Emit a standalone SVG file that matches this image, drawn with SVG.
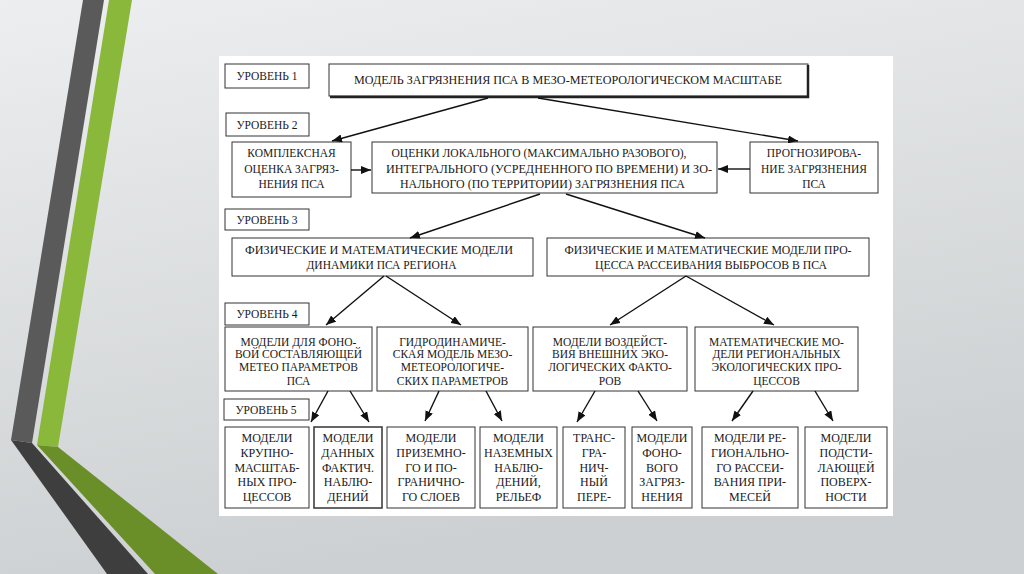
<svg xmlns="http://www.w3.org/2000/svg" width="1024" height="574" viewBox="0 0 1024 574">
<defs>
<linearGradient id="bg" x1="0" y1="0" x2="0.3" y2="1">
<stop offset="0" stop-color="#eceeef"/>
<stop offset="1" stop-color="#cdd0d2"/>
</linearGradient>
<marker id="ah" viewBox="0 0 10 8" refX="10" refY="4" markerWidth="10" markerHeight="8" markerUnits="userSpaceOnUse" orient="auto">
<path d="M0,0 L10,4 L0,8 z" fill="#111"/>
</marker>
<style>
.box{fill:#fff;stroke:#333;stroke-width:1}
text.t{font-family:'Liberation Serif','Times New Roman',serif;font-size:11.5px;fill:#1a1a1a;text-anchor:middle}
text.t5{font-family:'Liberation Serif','Times New Roman',serif;font-size:12px;fill:#1a1a1a;text-anchor:middle}
.c{stroke:#111;stroke-width:1.4;fill:none;marker-end:url(#ah)}
</style>
</defs>
<rect width="1024" height="574" fill="url(#bg)"/>
<g id="stripes">
<polygon points="83,0 104,0 32,443 11,440" fill="#5a5a5a"/>
<polygon points="11,440 32,443 148,574 107,574" fill="#3e3e3e"/>
<polygon points="109,0 132,0 58,447 37,445" fill="#8ab83a"/>
<polygon points="37,445 58,447 218,574 155,574" fill="#6a8f28"/>
</g>
<rect x="219" y="56" width="674" height="460" fill="#fff"/>

<g id="levels">
<g id="lvl1"><rect class="box" x="225" y="64" width="84" height="24"/><text class="t" x="267" y="80">УРОВЕНЬ 1</text></g>
<g id="lvl2"><rect class="box" x="226" y="113" width="83" height="23"/><text class="t" x="267" y="129">УРОВЕНЬ 2</text></g>
<g id="lvl3"><rect class="box" x="225" y="209" width="84" height="21"/><text class="t" x="267" y="224">УРОВЕНЬ 3</text></g>
<g id="lvl4"><rect class="box" x="225" y="303" width="84" height="22"/><text class="t" x="267" y="318">УРОВЕНЬ 4</text></g>
<g id="lvl5"><rect class="box" x="224" y="399" width="85" height="21"/><text class="t" x="266" y="414">УРОВЕНЬ 5</text></g>
</g>

<g id="title">
<rect class="box" x="329" y="64" width="479" height="32"/>
<path d="M808,65 V97 H330" stroke="#222" stroke-width="2.5" fill="none"/>
<text class="t" x="568" y="84" textLength="428" lengthAdjust="spacingAndGlyphs">МОДЕЛЬ ЗАГРЯЗНЕНИЯ ПСА В МЕЗО-МЕТЕОРОЛОГИЧЕСКОМ МАСШТАБЕ</text>
</g>

<g id="n2a"><rect class="box" x="232" y="142" width="119" height="55"/>
<text class="t" x="291.5" y="157">КОМПЛЕКСНАЯ</text>
<text class="t" x="291.5" y="173">ОЦЕНКА ЗАГРЯЗ-</text>
<text class="t" x="291.5" y="188">НЕНИЯ ПСА</text></g>
<g id="n2b"><rect class="box" x="372" y="142" width="345" height="51"/>
<text class="t" x="539" y="157" textLength="295" lengthAdjust="spacingAndGlyphs">ОЦЕНКИ ЛОКАЛЬНОГО (МАКСИМАЛЬНО РАЗОВОГО),</text>
<text class="t" x="549" y="173" textLength="326" lengthAdjust="spacingAndGlyphs">ИНТЕГРАЛЬНОГО (УСРЕДНЕННОГО ПО ВРЕМЕНИ) И ЗО-</text>
<text class="t" x="542.5" y="188" textLength="285" lengthAdjust="spacingAndGlyphs">НАЛЬНОГО (ПО ТЕРРИТОРИИ) ЗАГРЯЗНЕНИЯ ПСА</text></g>
<g id="n2c"><rect class="box" x="750" y="142" width="128" height="51"/>
<text class="t" x="814" y="157">ПРОГНОЗИРОВА-</text>
<text class="t" x="814" y="173">НИЕ ЗАГРЯЗНЕНИЯ</text>
<text class="t" x="814" y="188">ПСА</text></g>

<g id="n3a"><rect class="box" x="232" y="238" width="301" height="38"/>
<text class="t" x="379" y="254" textLength="268" lengthAdjust="spacingAndGlyphs">ФИЗИЧЕСКИЕ И МАТЕМАТИЧЕСКИЕ МОДЕЛИ</text>
<text class="t" x="381.5" y="269" textLength="150" lengthAdjust="spacingAndGlyphs">ДИНАМИКИ ПСА РЕГИОНА</text></g>
<g id="n3b"><rect class="box" x="547" y="238" width="322" height="38"/>
<text class="t" x="708" y="254" textLength="287" lengthAdjust="spacingAndGlyphs">ФИЗИЧЕСКИЕ И МАТЕМАТИЧЕСКИЕ МОДЕЛИ ПРО-</text>
<text class="t" x="711" y="269" textLength="232" lengthAdjust="spacingAndGlyphs">ЦЕССА РАССЕИВАНИЯ ВЫБРОСОВ В ПСА</text></g>

<g id="n4a"><rect class="box" x="225" y="327" width="147" height="64"/>
<text class="t" x="298.5" y="346">МОДЕЛИ ДЛЯ ФОНО-</text>
<text class="t" x="298.5" y="358">ВОЙ СОСТАВЛЯЮЩЕЙ</text>
<text class="t" x="298.5" y="371">МЕТЕО ПАРАМЕТРОВ</text>
<text class="t" x="298.5" y="385">ПСА</text></g>
<g id="n4b"><rect class="box" x="377" y="327" width="151" height="64"/>
<text class="t" x="452.5" y="346">ГИДРОДИНАМИЧЕ-</text>
<text class="t" x="452.5" y="358">СКАЯ МОДЕЛЬ МЕЗО-</text>
<text class="t" x="452.5" y="371">МЕТЕОРОЛОГИЧЕ-</text>
<text class="t" x="452.5" y="385">СКИХ ПАРАМЕТРОВ</text></g>
<g id="n4c"><rect class="box" x="533" y="327" width="154" height="64"/>
<text class="t" x="610" y="346">МОДЕЛИ ВОЗДЕЙСТ-</text>
<text class="t" x="610" y="358">ВИЯ ВНЕШНИХ ЭКО-</text>
<text class="t" x="610" y="371">ЛОГИЧЕСКИХ ФАКТО-</text>
<text class="t" x="610" y="385">РОВ</text></g>
<g id="n4d"><rect class="box" x="695" y="327" width="163" height="64"/>
<text class="t" x="776.5" y="346">МАТЕМАТИЧЕСКИЕ МО-</text>
<text class="t" x="776.5" y="358">ДЕЛИ РЕГИОНАЛЬНЫХ</text>
<text class="t" x="776.5" y="371">ЭКОЛОГИЧЕСКИХ ПРО-</text>
<text class="t" x="776.5" y="385">ЦЕССОВ</text></g>

<g id="n5a"><rect class="box" x="225" y="427" width="84" height="81"/>
<text class="t5" x="267" y="442">МОДЕЛИ</text><text class="t5" x="267" y="457">КРУПНО-</text><text class="t5" x="267" y="472">МАСШТАБ-</text><text class="t5" x="267" y="486">НЫХ ПРО-</text><text class="t5" x="267" y="501">ЦЕССОВ</text></g>
<g id="n5b"><rect class="box" x="314" y="427" width="68" height="81" style="stroke-width:1.5"/>
<text class="t5" x="348" y="442">МОДЕЛИ</text><text class="t5" x="348" y="457">ДАННЫХ</text><text class="t5" x="348" y="472">ФАКТИЧ.</text><text class="t5" x="348" y="486">НАБЛЮ-</text><text class="t5" x="348" y="501">ДЕНИЙ</text></g>
<g id="n5c"><rect class="box" x="387" y="427" width="88" height="81"/>
<text class="t5" x="431" y="442">МОДЕЛИ</text><text class="t5" x="431" y="457">ПРИЗЕМНО-</text><text class="t5" x="431" y="472">ГО И ПО-</text><text class="t5" x="431" y="486">ГРАНИЧНО-</text><text class="t5" x="431" y="501">ГО СЛОЕВ</text></g>
<g id="n5d"><rect class="box" x="480" y="427" width="77" height="81"/>
<text class="t5" x="518.5" y="442">МОДЕЛИ</text><text class="t5" x="518.5" y="457">НАЗЕМНЫХ</text><text class="t5" x="518.5" y="472">НАБЛЮ-</text><text class="t5" x="518.5" y="486">ДЕНИЙ,</text><text class="t5" x="518.5" y="501">РЕЛЬЕФ</text></g>
<g id="n5e"><rect class="box" x="563" y="427" width="62" height="81"/>
<text class="t5" x="594" y="442">ТРАНС-</text><text class="t5" x="594" y="457">ГРА-</text><text class="t5" x="594" y="472">НИЧ-</text><text class="t5" x="594" y="486">НЫЙ</text><text class="t5" x="594" y="501">ПЕРЕ-</text></g>
<g id="n5f"><rect class="box" x="632" y="427" width="60" height="81"/>
<text class="t5" x="662" y="442">МОДЕЛИ</text><text class="t5" x="662" y="457">ФОНО-</text><text class="t5" x="662" y="472">ВОГО</text><text class="t5" x="662" y="486">ЗАГРЯЗ-</text><text class="t5" x="662" y="501">НЕНИЯ</text></g>
<g id="n5g"><rect class="box" x="702" y="427" width="96" height="81"/>
<text class="t5" x="750" y="442">МОДЕЛИ РЕ-</text><text class="t5" x="750" y="457">ГИОНАЛЬНО-</text><text class="t5" x="750" y="472">ГО РАССЕИ-</text><text class="t5" x="750" y="486">ВАНИЯ ПРИ-</text><text class="t5" x="750" y="501">МЕСЕЙ</text></g>
<g id="n5h"><rect class="box" x="805" y="427" width="82" height="81"/>
<text class="t5" x="846" y="442">МОДЕЛИ</text><text class="t5" x="846" y="457">ПОДСТИ-</text><text class="t5" x="846" y="472">ЛАЮЩЕЙ</text><text class="t5" x="846" y="486">ПОВЕРХ-</text><text class="t5" x="846" y="501">НОСТИ</text></g>

<g id="connectors">
<line class="c" x1="488" y1="98" x2="332" y2="141"/>
<line class="c" x1="538" y1="98" x2="798" y2="141"/>
<line class="c" x1="351" y1="170" x2="371" y2="170"/>
<line class="c" x1="750" y1="169" x2="718" y2="169"/>
<line class="c" x1="540" y1="194" x2="410" y2="238"/>
<line class="c" x1="566" y1="194" x2="705" y2="238"/>
<line class="c" x1="384" y1="276" x2="326" y2="325"/>
<line class="c" x1="386" y1="276" x2="461" y2="325"/>
<line class="c" x1="686" y1="276" x2="610" y2="325"/>
<line class="c" x1="686" y1="276" x2="774" y2="325"/>
<line class="c" x1="328" y1="391" x2="311" y2="422"/>
<line class="c" x1="350" y1="391" x2="369" y2="422"/>
<line class="c" x1="439" y1="391" x2="425" y2="421"/>
<line class="c" x1="486" y1="391" x2="502" y2="421"/>
<line class="c" x1="595" y1="391" x2="577" y2="422"/>
<line class="c" x1="638" y1="391" x2="657" y2="421"/>
<line class="c" x1="753" y1="391" x2="732" y2="421"/>
<line class="c" x1="815" y1="391" x2="833" y2="421"/>
</g>
</svg>
